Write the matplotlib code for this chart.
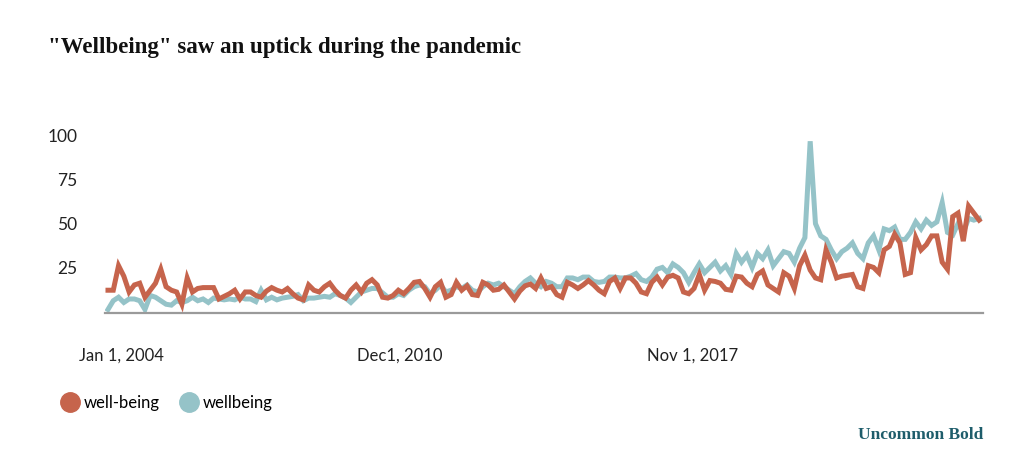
#!/usr/bin/env python3

import matplotlib.pyplot as plt
import matplotlib.transforms as mtransforms
import numpy as np
from matplotlib.lines import Line2D

# Search interest, sampled every 1.5 months from Jan 2004
well_being = [
    12, 12, 26, 20, 11, 15, 16, 8, 12, 16, 24, 14, 12, 11, 4, 19, 11, 13, 13.5, 13.5,
    13.5, 7, 8.5, 10, 12, 7, 11, 11,
    9, 8, 11.5, 13.5, 12, 11, 13, 10, 7.5, 6.5, 15, 12, 11, 14, 16, 12, 9, 7.5,
    12, 15, 11, 16, 18, 15, 8, 7.5, 9,
    12, 10, 13, 16.5, 17, 13, 8, 14, 16.5, 8, 9.5, 16.5, 12, 14.5, 9.5, 9, 16.5, 15,
    12, 12.5, 15, 11, 7, 11.5, 14.5, 15.5, 13,
    19, 13, 14, 9.5, 8, 16.5, 15, 13, 15, 17.5, 15, 12, 10, 17, 19, 13, 19, 19,
    16, 11, 10, 16.5, 19.5, 15, 19.5, 20.5, 19, 11,
    10, 13, 21, 12, 17.5, 17, 16, 12.5, 12, 20, 19.5, 16, 14, 21, 23, 15, 13, 11,
    22, 20, 13, 26, 32, 23.5, 19, 18, 35,
    28, 19, 20, 20.5, 21, 14, 13, 26, 25, 22, 35, 37, 44, 39, 21, 22, 42, 35,
    38, 43, 43, 28, 24, 54, 56, 40, 60, 56, 52,
]
wellbeing = [
    1, 6, 8, 5, 7, 7, 6, 1, 9, 8, 6, 4, 3.5, 6, 5, 6, 8, 6, 7, 5,
    7.5, 7, 6.5, 7, 6.5, 8, 7, 7,
    5.5, 12, 6.5, 8, 6.5, 7.5, 8, 8.5, 9.5, 6, 7.5, 7.5, 8, 8.5, 8, 10, 9, 7.5,
    5, 8, 11, 12, 13, 13, 10.5, 8, 8,
    10, 9, 12, 14, 15, 14, 10, 12, 15, 11, 12, 14, 13, 15, 12, 11, 14, 16,
    15, 16, 14, 12, 10, 14, 17, 19, 16,
    14, 17, 16, 14, 14, 19, 19, 18, 19.5, 19.5, 17, 16.5, 17, 19.5, 19.5, 19, 19, 20,
    21.5, 18, 17, 19.5, 24, 25, 22, 27, 25, 22,
    16.5, 22, 27, 22, 25, 28, 23, 26, 21, 33, 28, 32, 25, 33, 30, 35, 26, 30,
    34, 33, 28, 36, 42, 97, 50, 43, 41,
    35, 30, 34, 36, 39, 33, 30, 39, 43, 35, 47, 46, 48, 41, 41, 45, 51, 47,
    52, 49, 51, 62, 45, 43.5, 50, 45, 53, 52, 53,
]
months = np.arange(len(well_being)) * 1.5

tick_months = [0, 83, 166]
tick_labels = ["Jan 1, 2004", "Dec1, 2010", "Nov 1, 2017"]
y_ticks = [25, 50, 75, 100]

RED = "#c6644c"
BLUE = "#95c3c8"
TEAL = "#1e5d6b"
SANS = "Lato"


def main() -> None:
    fig = plt.figure(figsize=(10.24, 4.74), dpi=100)
    ax = fig.add_axes((105 / 1024, 1 - 313 / 474, 878 / 1024, 177 / 474))

    ax.plot(months, wellbeing, color=BLUE, lw=3.6, solid_joinstyle="miter", zorder=2)
    ax.plot(months, well_being, color=RED, lw=3.6, solid_joinstyle="miter", zorder=3)

    ax.set_xlim(-0.85, 248.6)
    ax.set_ylim(-1, 100)

    ax.set_yticks(y_ticks, [str(v) for v in y_ticks], fontfamily=SANS, fontsize=12.5)
    ax.set_xticks(tick_months, tick_labels, fontfamily=SANS, fontsize=12)
    ax.tick_params(axis="y", length=0, pad=20, colors="#222222")
    ax.tick_params(axis="x", length=0, pad=25, colors="#222222")

    # first date label sits a little right of the series start
    first = ax.get_xticklabels()[0]
    first.set_transform(first.get_transform()
                        + mtransforms.ScaledTranslation(13 / 100, 0, fig.dpi_scale_trans))

    for side in ("top", "right", "left"):
        ax.spines[side].set_visible(False)
    ax.spines["bottom"].set_color("#9a9a9a")
    ax.spines["bottom"].set_linewidth(1.6)

    fig.text(48 / 1024, 1 - 47 / 474, '"Wellbeing" saw an uptick during the pandemic',
             fontfamily="Liberation Serif", fontweight="bold", fontsize=16.5,
             color="#111111", va="center")

    handles = [
        Line2D([], [], ls="none", marker="o", ms=14, color=RED, label="well-being"),
        Line2D([], [], ls="none", marker="o", ms=14, color=BLUE, label="wellbeing"),
    ]
    fig.legend(handles=handles, loc="center left", bbox_to_anchor=(45 / 1024, 1 - 403 / 474),
               ncol=2, frameon=False, prop={"family": SANS, "size": 12},
               handletextpad=0.2, columnspacing=1.2, handlelength=1.2)

    fig.text(983 / 1024, 1 - 435 / 474, "Uncommon Bold", fontfamily="Liberation Serif",
             fontweight="bold", fontsize=12.5, color=TEAL, ha="right", va="center")

    fig.savefig("out.png", dpi=100)


if __name__ == "__main__":
    main()
